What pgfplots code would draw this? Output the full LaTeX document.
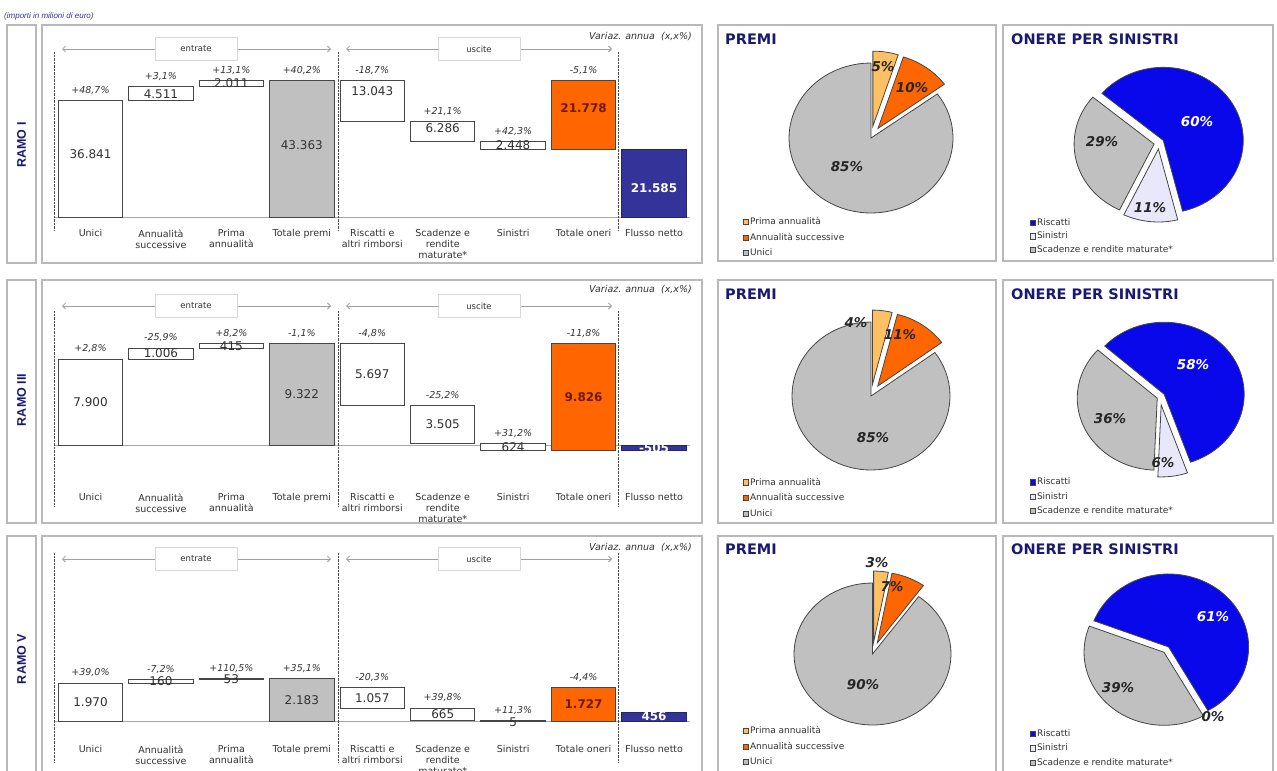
\documentclass[border=0pt]{standalone}
\usepackage{fontspec}
\setmainfont{DejaVu Sans}
\newfontfamily\arialfont{Liberation Sans}
\usepackage{pgfplots}
\pgfplotsset{compat=1.18}
\usetikzlibrary{arrows.meta}

\definecolor{framec}{RGB}{185,185,185}
\definecolor{barline}{RGB}{70,70,70}
\definecolor{textc}{RGB}{50,50,50}
\definecolor{grayfill}{RGB}{192,192,192}
\definecolor{orangefill}{RGB}{255,102,0}
\definecolor{navyfill}{RGB}{51,51,153}
\definecolor{navytext}{RGB}{25,25,112}
\definecolor{lightorange}{RGB}{253,192,98}
\definecolor{pieblue}{RGB}{8,8,235}
\definecolor{lavender}{RGB}{232,232,250}
\definecolor{darkred}{RGB}{110,25,0}
\definecolor{arrowc}{RGB}{160,160,160}
\definecolor{boxc}{RGB}{215,215,215}

\pgfplotsset{
  legend image code/.code={\draw[#1, line width=0.6pt] (0pt,-2.6pt) rectangle (5.2pt,2.6pt);},
  wfaxis/.style={scale only axis, width=660pt, xmin=-0.6885, xmax=8.681,
    axis line style={draw=framec, line width=1.2pt},
    ytick=\empty, xtick={0,...,8}, major tick length=0pt,
    xticklabels={Unici, Annualità\\successive, Prima\\annualità, Totale premi,
      Riscatti e\\altri rimborsi, Scadenze e\\rendite\\maturate*, Sinistri,
      Totale oneri, Flusso netto},
    xticklabel style={align=center, anchor=north, font=\fontsize{9.5}{11}\selectfont, text=textc}},
  pieaxis/.style={scale only axis, y dir=reverse,
    axis line style={draw=framec, line width=1.2pt},
    xtick=\empty, ytick=\empty, legend cell align=left,
    legend style={draw=none, fill=none, anchor=north west, inner sep=0pt, row sep=5pt,
      font=\fontsize{9}{10}\selectfont, text=textc, nodes={inner sep=1pt}}},
}

\tikzset{
  wb/.style={fill=white, draw=barline, line width=1pt},
  gb/.style={fill=grayfill, draw=barline, line width=1pt},
  ob/.style={fill=orangefill, draw=barline, line width=1pt},
  nb/.style={fill=navyfill, draw=navyfill!70!black, line width=1pt},
  val/.style={font=\fontsize{12}{12}\selectfont, text=textc},
  valo/.style={font=\fontsize{12}{12}\selectfont\bfseries, text=darkred},
  valn/.style={font=\fontsize{12}{12}\selectfont\bfseries, text=white},
  pct/.style={anchor=south, yshift=2.5pt, font=\fontsize{9.5}{10}\selectfont\itshape, text=textc},
  pl/.style={font=\fontsize{13.5}{14}\selectfont\bfseries\itshape, text=black!85},
  pw/.style={pl, text=white},
  slice/.style={draw=barline, line width=0.8pt},
  lbox/.style={draw=boxc, fill=white, line width=0.8pt, minimum width=82pt, minimum height=23pt,
    font=\fontsize{8.5}{9}\selectfont, text=textc},
  arr/.style={arrowc, line width=0.8pt,
    {Straight Barb[length=3pt,width=6pt]}-{Straight Barb[length=3pt,width=6pt]}},
  dotline/.style={black!70, line width=1pt, dash pattern=on 0.7pt off 0.7pt},
  ttl/.style={anchor=west, inner sep=0pt, font=\fontsize{14.5}{15}\selectfont\bfseries, text=navytext},
  ramo/.style={rotate=90, font=\arialfont\bfseries\fontsize{12.5}{13}\selectfont, text=navytext},
}

% floating bar: style, x, low, high
\newcommand{\wbar}[4]{\addplot[#1] coordinates {({#2-0.458},#3) ({#2+0.458},#3) ({#2+0.458},#4) ({#2-0.458},#4)} -- cycle;}
% pie slice: style, from %, to %, explode (px); uses \cx \cy \rx \ry \st
\newcommand{\pieslice}[4]{\addplot[#1, domain=\st-3.6*#3:\st-3.6*#2, samples=72]
  ({\cx+#4*cos(\st-1.8*(#2+#3))+\rx*cos(x)}, {\cy-#4*sin(\st-1.8*(#2+#3))-\ry*sin(x)})
  -- (axis cs:{\cx+#4*cos(\st-1.8*(#2+#3))},{\cy-#4*sin(\st-1.8*(#2+#3))}) -- cycle;}
% decoration of a waterfall row: arrow y, dotted top, dotted bottom, note y
\newcommand{\wfdecor}[4]{%
  \draw[arr] (62,#1) -- (331,#1);
  \draw[arr] (346,#1) -- (612,#1);
  \node[lbox] at (196,#1) {entrate};
  \node[lbox] at (479,#1) {uscite};
  \foreach \xx in {54,338,618} {\draw[dotline] (\xx,#2) -- (\xx,#3);}
  \node[anchor=east, inner sep=0pt, font=\fontsize{9.5}{10}\selectfont\itshape, text=textc] at (692,#4) {Variaz. annua\ \ (x,x\%)};
}

\begin{document}
\begin{tikzpicture}
\begin{scope}[x=1pt,y=-1pt]
  \draw[black!35, line width=0.8pt] (54,217.7) -- (690,217.7);
  \draw[black!35, line width=0.8pt] (54,445) -- (690,445);
  \draw[black!35, line width=0.8pt] (54,721) -- (690,721);
\end{scope}

% ---------------- RAMO I ----------------
\begin{axis}[wfaxis, at={(42pt,-263pt)}, height=238pt, ymin=-14299, ymax=60827,
  xticklabel style={yshift=37pt}]
\wbar{wb}{0}{0}{36841}
\wbar{wb}{1}{36841}{41352}
\wbar{wb}{2}{41352}{43363}
\wbar{gb}{3}{0}{43363}
\wbar{wb}{4}{30320}{43363}
\wbar{wb}{5}{24034}{30320}
\wbar{wb}{6}{21585}{24034}
\wbar{ob}{7}{21585}{43363}
\wbar{nb}{8}{0}{21585}
\node[val] at (axis cs:0,20107) {36.841};
\node[val] at (axis cs:1,39096) {4.511};
\node[val] at (axis cs:2,42357) {2.011};
\node[val] at (axis cs:3,22948) {43.363};
\node[val] at (axis cs:4,40088) {13.043};
\node[val] at (axis cs:5,28314) {6.286};
\node[val] at (axis cs:6,22810) {2.448};
\node[valo] at (axis cs:7,34628) {21.778};
\node[valn] at (axis cs:8,9375) {21.585};
\node[pct] at (axis cs:0,36841) {+48,7\%};
\node[pct] at (axis cs:1,41352) {+3,1\%};
\node[pct] at (axis cs:2,43363) {+13,1\%};
\node[pct] at (axis cs:3,43363) {+40,2\%};
\node[pct] at (axis cs:4,43363) {-18,7\%};
\node[pct] at (axis cs:5,30320) {+21,1\%};
\node[pct] at (axis cs:6,24034) {+42,3\%};
\node[pct] at (axis cs:7,43363) {-5,1\%};
\end{axis}

% ---------------- RAMO III ----------------
\begin{axis}[wfaxis, at={(42pt,-523pt)}, height=243pt, ymin=-7165, ymax=15157,
  xticklabel style={yshift=33pt}]
\wbar{wb}{0}{0}{7900}
\wbar{wb}{1}{7900}{8906}
\wbar{wb}{2}{8906}{9322}
\wbar{gb}{3}{0}{9322}
\wbar{wb}{4}{3625}{9322}
\wbar{wb}{5}{120}{3625}
\wbar{wb}{6}{-504}{120}
\wbar{ob}{7}{-505}{9322}
\wbar{nb}{8}{-505}{0}
\node[val] at (axis cs:0,3950) {7.900};
\node[val] at (axis cs:1,8403) {1.006};
\node[val] at (axis cs:2,9114) {415};
\node[val] at (axis cs:3,4661) {9.322};
\node[val] at (axis cs:4,6473) {5.697};
\node[val] at (axis cs:5,1872) {3.505};
\node[val] at (axis cs:6,-192) {624};
\node[valo] at (axis cs:7,4408) {9.826};
\node[valn] at (axis cs:8,-252) {-505};
\node[pct] at (axis cs:0,7900) {+2,8\%};
\node[pct] at (axis cs:1,8906) {-25,9\%};
\node[pct] at (axis cs:2,9322) {+8,2\%};
\node[pct] at (axis cs:3,9322) {-1,1\%};
\node[pct] at (axis cs:4,9322) {-4,8\%};
\node[pct] at (axis cs:5,3625) {-25,2\%};
\node[pct] at (axis cs:6,120) {+31,2\%};
\node[pct] at (axis cs:7,9322) {-11,8\%};
\end{axis}

% ---------------- RAMO V ----------------
\begin{axis}[wfaxis, at={(42pt,-781pt)}, height=245pt, ymin=-3110, ymax=9590,
  xticklabel style={yshift=39pt}]
\wbar{wb}{0}{0}{1970}
\wbar{wb}{1}{1970}{2130}
\wbar{wb}{2}{2130}{2183}
\wbar{gb}{3}{0}{2183}
\wbar{wb}{4}{670}{1727}
\wbar{wb}{5}{5}{670}
\wbar{wb}{6}{0}{5}
\wbar{ob}{7}{0}{1727}
\wbar{nb}{8}{0}{456}
\node[val] at (axis cs:0,985) {1.970};
\node[val] at (axis cs:1,2050) {160};
\node[val] at (axis cs:2,2156) {53};
\node[val] at (axis cs:3,1092) {2.183};
\node[val] at (axis cs:4,1198) {1.057};
\node[val] at (axis cs:5,337) {665};
\node[val] at (axis cs:6,-80) {5};
\node[valo] at (axis cs:7,863) {1.727};
\node[valn] at (axis cs:8,228) {456};
\node[pct] at (axis cs:0,1970) {+39,0\%};
\node[pct] at (axis cs:1,2130) {-7,2\%};
\node[pct] at (axis cs:2,2183) {+110,5\%};
\node[pct] at (axis cs:3,2183) {+35,1\%};
\node[pct] at (axis cs:4,1727) {-20,3\%};
\node[pct] at (axis cs:5,670) {+39,8\%};
\node[pct] at (axis cs:6,5) {+11,3\%};
\node[pct] at (axis cs:7,1727) {-4,4\%};
\end{axis}

% ---------------- PREMI pies ----------------
\def\cx{871}\def\cy{138}\def\rx{82}\def\ry{75}\def\st{90}
\begin{axis}[pieaxis, at={(718pt,-261pt)}, width=278pt, height=236pt,
  xmin=718, xmax=996, ymin=25, ymax=261,
  legend style={at={(axis description cs:0.09,0.19)}}]
\pieslice{slice, fill=lightorange}{0}{5}{12}
\addlegendentry{Prima annualità}
\pieslice{slice, fill=orangefill}{5}{15}{12}
\addlegendentry{Annualità successive}
\pieslice{slice, fill=grayfill}{15}{100}{0}
\addlegendentry{Unici}
\node[pl] at (axis cs:883,67) {5\%};
\node[pl] at (axis cs:912,88) {10\%};
\node[pl] at (axis cs:847,167) {85\%};
\end{axis}

\def\cx{871}\def\cy{396}\def\rx{79}\def\ry{74}\def\st{90}
\begin{axis}[pieaxis, at={(718pt,-523pt)}, width=278pt, height=243pt,
  xmin=718, xmax=996, ymin=280, ymax=523,
  legend style={at={(axis description cs:0.09,0.19)}}]
\pieslice{slice, fill=lightorange}{0}{4}{12}
\addlegendentry{Prima annualità}
\pieslice{slice, fill=orangefill}{4}{15}{12}
\addlegendentry{Annualità successive}
\pieslice{slice, fill=grayfill}{15}{100}{0}
\addlegendentry{Unici}
\node[pl] at (axis cs:856,323) {4\%};
\node[pl] at (axis cs:900,335) {11\%};
\node[pl] at (axis cs:873,438) {85\%};
\end{axis}

\def\cx{872.5}\def\cy{654}\def\rx{78.5}\def\ry{71}\def\st{90}
\begin{axis}[pieaxis, at={(718pt,-781pt)}, width=278pt, height=245pt,
  xmin=718, xmax=996, ymin=536, ymax=781,
  legend style={at={(axis description cs:0.09,0.228)}}]
\pieslice{slice, fill=lightorange}{0}{3}{12}
\addlegendentry{Prima annualità}
\pieslice{slice, fill=orangefill}{3}{10}{12}
\addlegendentry{Annualità successive}
\pieslice{slice, fill=grayfill}{10}{100}{0}
\addlegendentry{Unici}
\node[pl] at (axis cs:877,563) {3\%};
\node[pl] at (axis cs:892,587) {7\%};
\node[pl] at (axis cs:863,685) {90\%};
\end{axis}

% ---------------- ONERE PER SINISTRI pies ----------------
\def\cx{1159}\def\cy{143}\def\rx{80}\def\ry{73}\def\st{140}
\begin{axis}[pieaxis, at={(1003pt,-261pt)}, width=270pt, height=236pt,
  xmin=1003, xmax=1273, ymin=25, ymax=261,
  legend style={at={(axis description cs:0.1,0.186)}, row sep=3.5pt}]
\pieslice{slice, fill=pieblue}{0}{60}{5}
\addlegendentry{Riscatti}
\pieslice{slice, fill=lavender}{60}{71}{6}
\addlegendentry{Sinistri}
\pieslice{slice, fill=grayfill}{71}{100}{5}
\addlegendentry{Scadenze e rendite maturate*}
\node[pw] at (axis cs:1197,122) {60\%};
\node[pl] at (axis cs:1102,142) {29\%};
\node[pl] at (axis cs:1150,208) {11\%};
\end{axis}

\def\cx{1160}\def\cy{397}\def\rx{80}\def\ry{72}\def\st{138}
\begin{axis}[pieaxis, at={(1003pt,-523pt)}, width=270pt, height=243pt,
  xmin=1003, xmax=1273, ymin=280, ymax=523,
  legend style={at={(axis description cs:0.1,0.19)}, row sep=4pt}]
\pieslice{slice, fill=pieblue}{0}{58}{5}
\addlegendentry{Riscatti}
\pieslice{slice, fill=lavender}{58}{64}{8}
\addlegendentry{Sinistri}
\pieslice{slice, fill=grayfill}{64}{100}{3}
\addlegendentry{Scadenze e rendite maturate*}
\node[pw] at (axis cs:1193,365) {58\%};
\node[pl] at (axis cs:1110,419) {36\%};
\node[pl] at (axis cs:1163,463) {6\%};
\end{axis}

\def\cx{1166}\def\cy{650}\def\rx{80}\def\ry{73}\def\st{159}
\begin{axis}[pieaxis, at={(1003pt,-781pt)}, width=270pt, height=245pt,
  xmin=1003, xmax=1273, ymin=536, ymax=781,
  legend style={at={(axis description cs:0.1,0.216)}, row sep=4.5pt}]
\pieslice{slice, fill=pieblue}{0}{61}{4}
\addlegendentry{Riscatti}
\addlegendimage{slice, fill=lavender}
\addlegendentry{Sinistri}
\pieslice{slice, fill=grayfill}{61}{100}{3}
\addlegendentry{Scadenze e rendite maturate*}
\node[pw] at (axis cs:1213,617) {61\%};
\node[pl] at (axis cs:1118,688) {39\%};
\node[pl] at (axis cs:1213,717) {0\%};
\end{axis}

% ---------------- frames, arrows and titles ----------------
\begin{scope}[x=1pt,y=-1pt]
  \node[anchor=west, inner sep=0pt, font=\arialfont\itshape\fontsize{8}{9}\selectfont, text=navyfill]
    at (4,16) {(importi in milioni di euro)};
  \foreach \a/\b in {25/263, 280/523, 536/781} {\draw[framec, line width=1.2pt] (7,\a) rectangle (36,\b);}
  \node[ramo] at (21.5,145) {RAMO I};
  \node[ramo] at (21.5,400) {RAMO III};
  \node[ramo] at (21.5,659) {RAMO V};
  \wfdecor{49}{52}{230}{37}
  \wfdecor{306}{311}{507}{290}
  \wfdecor{559}{553}{763}{548}
  \node[ttl] at (725,39) {PREMI};
  \node[ttl] at (1011,39) {ONERE PER SINISTRI};
  \node[ttl] at (725,294) {PREMI};
  \node[ttl] at (1011,294) {ONERE PER SINISTRI};
  \node[ttl] at (725,549) {PREMI};
  \node[ttl] at (1011,549) {ONERE PER SINISTRI};
\end{scope}
\pgfresetboundingbox
\path[use as bounding box] (0pt,0pt) rectangle (1277pt,-771pt);
\end{tikzpicture}
\end{document}
